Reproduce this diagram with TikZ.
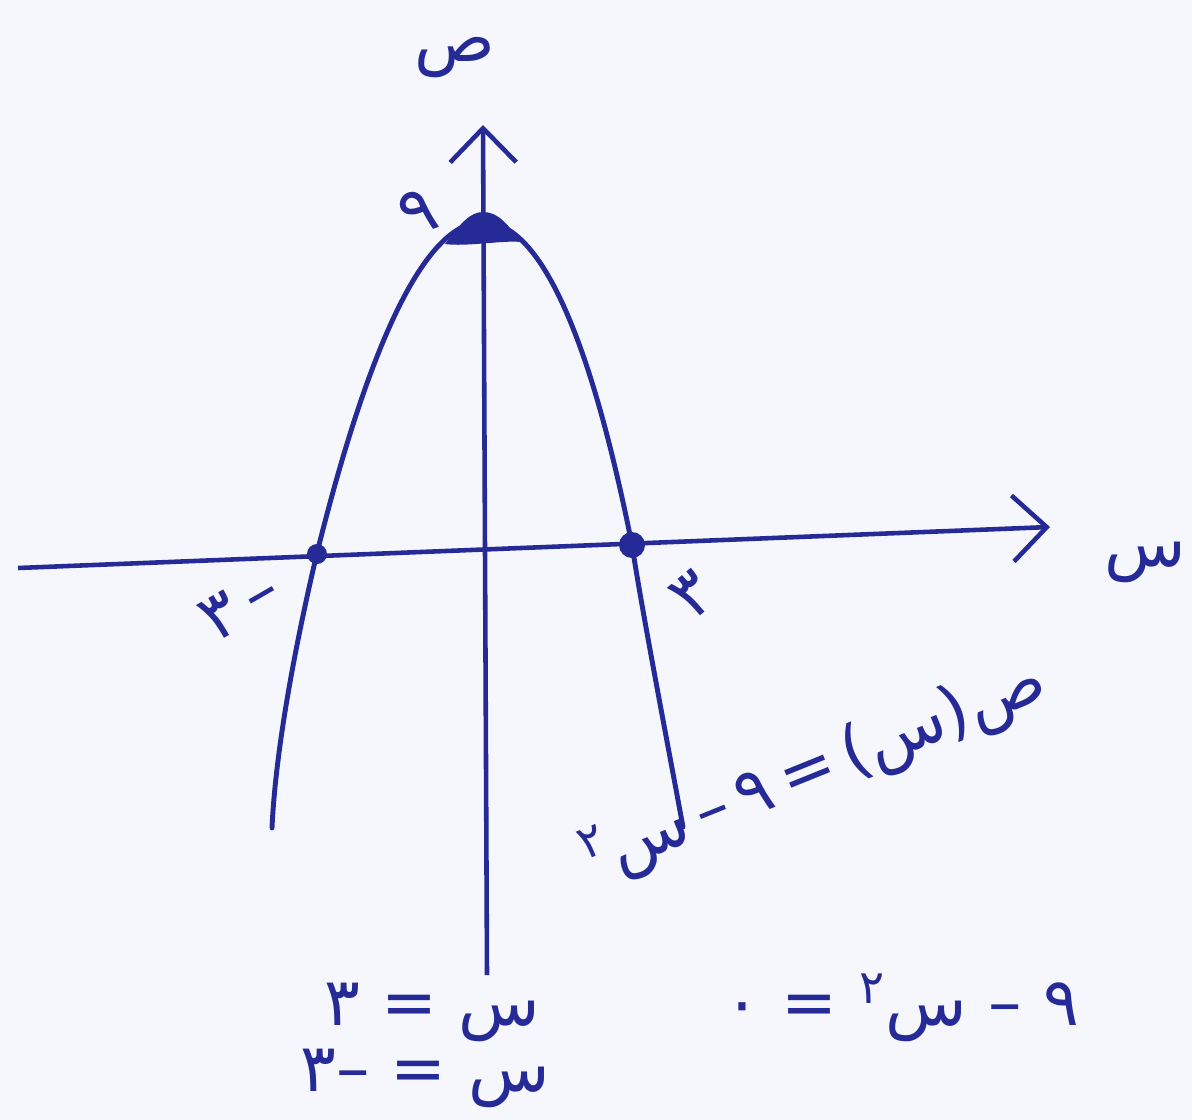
\documentclass[tikz,border=0pt]{standalone}
\usepackage{fontspec}
\usepackage{tikz}
\usetikzlibrary{arrows.meta}
\newfontfamily\arabicfont[Script=Arabic]{DejaVu Sans}
\TeXXeTstate=1
\definecolor{pen}{RGB}{38,42,150}
\definecolor{paper}{RGB}{246,247,252}

\begin{document}
\begin{tikzpicture}[
  axis/.style={draw=pen, line width=1.3pt, -{Straight Barb[length=3.4mm, width=6.6mm, line width=1.3pt]}},
  curve/.style={draw=pen, line width=1.4pt, line cap=round},
  rootdot/.style={circle, fill=pen, inner sep=0pt, minimum size=#1},
  lbl/.style={text=pen, inner sep=1pt, font=\arabicfont\fontsize{19}{23}\selectfont},
]
  \useasboundingbox (0,-11.2) rectangle (11.92,0);
  \fill[paper] (0,-11.2) rectangle (11.92,0);

  % Axes
  \coordinate (xstart) at (0.18,-5.68);
  \coordinate (xend) at (10.50,-5.27);
  \coordinate (ystart) at (4.87,-9.75);
  \coordinate (yend) at (4.83,-1.25);
  \draw[axis] (xstart) -- (xend);
  \draw[axis] (ystart) -- (yend);

  % Curve
  \draw[curve] (2.72,-8.28) .. controls (2.76,-7.40) and (3.00,-6.25) .. (3.17,-5.53)
    .. controls (3.72,-3.32) and (4.28,-2.22) .. (4.83,-2.22)
    .. controls (5.33,-2.22) and (5.85,-3.10) .. (6.32,-5.45)
    .. controls (6.42,-6.10) and (6.65,-7.30) .. (6.83,-8.27);

  % Points on the curve
  \node[rootdot=0.2cm] (lroot) at (3.17,-5.54) {};
  \node[rootdot=0.26cm] (rroot) at (6.32,-5.45) {};
  \fill[pen] (4.45,-2.44) .. controls (4.60,-2.24) and (4.70,-2.12) .. (4.83,-2.12)
    .. controls (4.98,-2.12) and (5.08,-2.24) .. (5.20,-2.42)
    .. controls (5.05,-2.40) and (4.65,-2.47) .. cycle;

  % Labels on the axes
  \node[lbl] (ylab) at (4.55,-0.58) {\beginR ص\endR};
  \node[lbl] (xlab) at (11.45,-5.62) {\beginR س\endR};
  \node[lbl, rotate=20] (nine) at (4.18,-2.12) {\beginR ٩\endR};
  \node[lbl, rotate=30] (mthree) at (2.40,-6.05) {\beginR –\,٣\endR};
  \node[lbl, rotate=40] (three) at (6.93,-5.95) {\beginR ٣\endR};

  % Rule of the curve
  \node[lbl, rotate=22] (rule) at (8.15,-7.72) {\beginR ص(س)\,=\,٩\,–\,س\textsuperscript{٢}\endR};

  % Solving
  \node[lbl] (sol1) at (4.32,-10.12) {\beginR س = ٣\endR};
  \node[lbl] (sol2) at (4.25,-10.78) {\beginR س = –٣\endR};
  \node[lbl] (zero) at (9.02,-10.08) {\beginR ٩ – س\textsuperscript{٢} = ٠\endR};
\end{tikzpicture}
\end{document}
